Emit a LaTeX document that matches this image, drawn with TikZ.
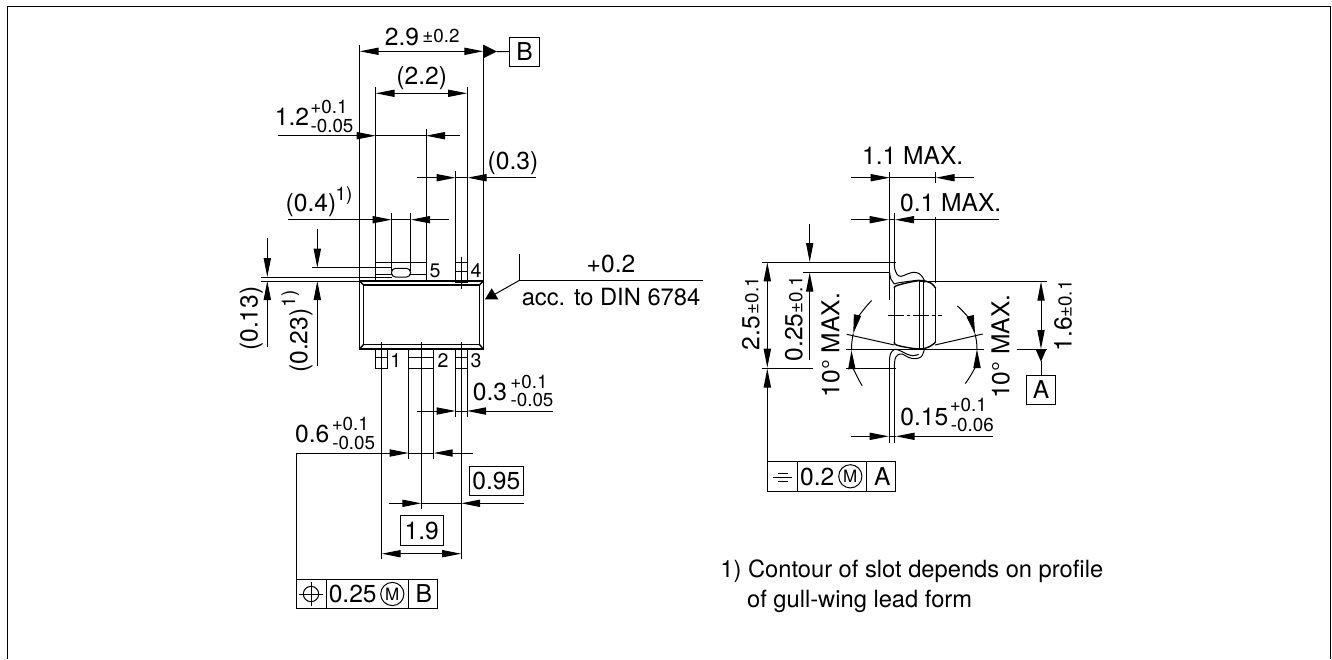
\documentclass[tikz,border=0pt]{standalone}
\usepackage{fontspec}
\setmainfont{TeX Gyre Heros}
\usetikzlibrary{arrows.meta}
\tikzset{
  dimline/.style={line width=0.5pt},
  edgeline/.style={line width=0.7pt},
  lab/.style={inner sep=0pt,anchor=base,font=\fontsize{12.3}{14}\selectfont},
  txt/.style={inner sep=0pt,anchor=base west,font=\fontsize{11.85}{14}\selectfont},
  tol/.style={inner sep=0pt,anchor=base,font=\fontsize{9.4}{11}\selectfont},
  pin/.style={inner sep=0pt,font=\fontsize{9.8}{11}\selectfont},
  refbox/.style={draw,line width=0.5pt,inner sep=0pt,minimum width=14.7pt,minimum height=14.7pt,font=\fontsize{12.3}{14}\selectfont},
  symcircle/.style={draw,circle,line width=0.5pt,inner sep=0pt,minimum size=11.6pt,font=\fontsize{8.5}{10}\selectfont}
}
\begin{document}
\begin{tikzpicture}[x=0.5pt,y=-0.5pt,>={Triangle[length=9.5pt,width=3.6pt]}]
      \useasboundingbox (0,0) rectangle (1332,659);
      % sheet frame
      \draw[line width=0.75pt] (7.5,659) -- (7.5,6.5) -- (1330.5,6.5) -- (1330.5,659);

      % top view, body and pins
      \begin{scope}[edgeline]
        \draw (359.7,281) rectangle (483.3,349);
        \draw (363.7,285) rectangle (479.3,344.3);
        \draw (359.7,281) -- (363.7,285);
        \draw (483.3,281) -- (479.3,285);
        \draw (359.7,349) -- (363.7,344.3);
        \draw (483.3,349) -- (479.3,344.3);
      \end{scope}
      \begin{scope}[dimline]
        \draw (359.7,45) -- (359.7,281);
        \draw (483.3,45) -- (483.3,281);
        \draw (375.7,87.3) -- (375.7,281);
        \draw (467,87.3) -- (467,282.7);
        \draw (426,129) -- (426,281);
        \draw (455.5,171) -- (455.5,282.7);
        \draw (391.5,213) -- (391.5,271);
        \draw (410.5,213) -- (410.5,271);
        \draw (375.7,262.3) -- (426,262.3);
        \draw (375.7,274) -- (391.7,274);
        \draw (410.3,274) -- (426,274);
        \draw[rounded corners=2pt] (391.5,268.3) rectangle (410.5,277);
        \draw (455.5,262.3) -- (467,262.3);
        \draw (455.5,271) -- (467,271);
        \draw (455.5,282.7) -- (467,282.7);
        \draw (461.5,256.7) -- (461.5,288.7);
        % lower pins
        \draw (375.7,349) -- (375.7,368) -- (387.7,368) -- (387.7,349);
        \draw (375.7,357.3) -- (387.7,357.3);
        \draw (381.7,341.7) -- (381.7,559.3);
        \draw (408.7,349) -- (408.7,459.3);
        \draw (433.7,349) -- (433.7,459.3);
        \draw (408.7,357.3) -- (433.7,357.3);
        \draw (408.7,368) -- (433.7,368);
        \draw (421.3,341.7) -- (421.3,509);
        \draw (455.5,349) -- (455.5,417.3);
        \draw (467,349) -- (467,417.3);
        \draw (455.5,357.3) -- (467,357.3);
        \draw (455.5,368) -- (467,368);
        \draw (461.2,341.7) -- (461.2,559.3);
        % slot heights
        \draw (311.7,267.7) -- (391.5,267.7);
        \draw (261,277) -- (391.5,277);
        \draw (261,281) -- (359.7,281);
      \end{scope}

      % top view, dimensions
      \begin{scope}[dimline]
        \draw[<->] (359.7,51.3) -- (483.3,51.3);
        \draw[<->] (375.7,93.3) -- (467,93.3);
        \draw[->] (277.7,135.7) -- (375.7,135.7);
        \draw (375.7,135.7) -- (426,135.7);
        \draw[->] (460,135.7) -- (426,135.7);
        \draw[->] (417,177.7) -- (455.5,177.7);
        \draw (455.5,177.7) -- (468,177.7);
        \draw[->] (536,177.7) -- (467.5,177.7);
        \draw[->] (288,219.7) -- (391.5,219.7);
        \draw (391.5,219.7) -- (410.5,219.7);
        \draw[->] (449,219.7) -- (411,219.7);
        \draw[->] (267.3,238) -- (267.3,277);
        \draw[->] (267.3,347) -- (267.3,281);
        \draw[->] (317.3,229) -- (317.3,267.7);
        \draw[->] (317.3,366) -- (317.3,281);
        \draw[->] (417,411) -- (455.5,411);
        \draw (455.5,411) -- (467,411);
        \draw[->] (552.7,411) -- (467,411);
        \draw[->] (296.7,453) -- (408.7,453);
        \draw (408.7,453) -- (433.7,453);
        \draw[->] (472.7,453) -- (433.7,453);
        \draw[->] (389.3,503.3) -- (421.3,503.3);
        \draw (421.3,503.3) -- (461.2,503.3);
        \draw[->] (523.7,503.3) -- (461.2,503.3);
        \draw[<->] (381.7,553.7) -- (461.2,553.7);
        \draw (296.7,453) -- (296.7,579.3);
      \end{scope}

      % surface mark
      \draw[dimline] (519.5,254) -- (519.5,280.3) -- (703,280.3);
      \draw[dimline] (519.5,280.3) -- (491.7,296);
      \fill (485,299.3) -- (498.3,299.3) -- (491.7,288.3) -- cycle;

      % datum B
      \node[refbox] (datumB) at (524.5,51.7) {B};
      \fill (483.3,44.7) -- (497,51.5) -- (483.3,58.3) -- cycle;
      \draw[dimline] (497,51.5) -- (datumB.west);

      % top view, labels
      \node[lab] (w29) at (402,45.7) {2.9};
      \node[tol] (w29t) at (441,42.7) {±0.2};
      \node[lab] (w22) at (421.7,84) {(2.2)};
      \node[lab] (w12) at (292,125) {1.2};
      \node[tol] (w12u) at (329,113.3) {+0.1};
      \node[tol] (w12l) at (332,132.3) {-0.05};
      \node[lab] (w03) at (513,169.3) {(0.3)};
      \node[lab] (w04) at (311,211) {(0.4)};
      \node[tol] (w04n) at (344,200.7) {1)};
      \node[lab,rotate=90] (h013) at (257.7,318.7) {(0.13)};
      \node[lab,rotate=90] (h023) at (307.3,340.7) {(0.23)};
      \node[tol,rotate=90] (h023n) at (295,299) {1)};
      \node[pin] (pin5) at (435,270.7) {5};
      \node[pin] (pin4) at (476,270.7) {4};
      \node[pin] (pin1) at (395.7,361) {1};
      \node[pin] (pin2) at (443,361) {2};
      \node[pin] (pin3) at (476,361) {3};
      \node[lab] (surf) at (611,272.7) {+0.2};
      \node[txt,anchor=base] (din) at (611,305) {acc. to DIN 6784};
      \node[lab] (p03) at (490,400.7) {0.3};
      \node[tol] (p03u) at (529,388.3) {+0.1};
      \node[tol] (p03l) at (532,406.7) {-0.05};
      \node[lab] (p06) at (312.3,442.7) {0.6};
      \node[tol] (p06u) at (350.3,430) {+0.1};
      \node[tol] (p06l) at (353.7,449) {-0.05};
      \node[refbox,minimum width=27.3pt] (b095) at (496.4,480.7) {0.95};
      \node[refbox,minimum width=21.3pt] (b19) at (421.7,530.5) {1.9};

      % position frame
      \draw[dimline] (296.7,579.3) rectangle (437.3,608.7);
      \draw[dimline] (326,579.3) -- (326,608.7);
      \draw[dimline] (408.3,579.3) -- (408.3,608.7);
      \draw[dimline] (311,594) circle (7.7);
      \draw[dimline] (299,594) -- (323,594);
      \draw[dimline] (311,582) -- (311,606);
      \node[lab] (pos) at (352.7,602.5) {0.25};
      \node[symcircle] (posM) at (392.3,594) {M};
      \node[lab] (posB) at (423.7,602.5) {B};

      % side view, body
      \begin{scope}[shift={(860,240)},x=0.5pt/3,y=-0.5pt/3]
        \begin{scope}[edgeline]
          \draw plot[smooth,tension=0.6] coordinates {(103,145) (112,136) (178,122) (212,129) (227,145)};
          \draw plot[smooth,tension=0.6] coordinates {(103,305) (112,316) (178,327) (212,318) (227,305)};
          \draw (103,145) -- (103,305);
          \draw (227,145) -- (227,305);
          \draw (178,122) -- (178,327);
          \draw (191,124) -- (191,325);
        \end{scope}
        \begin{scope}[dimline]
          \draw plot[smooth,tension=0.6] coordinates {(103,67) (104,85) (111,103) (123,109) (142,102) (160,97) (178,101) (190,115) (195,128)};
          \draw plot[smooth,tension=0.6] coordinates {(89,98) (92,115) (103,132)};
          \draw plot[smooth,tension=0.6] coordinates {(103,132) (118,128) (178,120)};
          \draw plot[smooth,tension=0.6] coordinates {(89,360) (91,342) (104,328) (122,333) (142,343) (160,347) (176,343)};
          \draw plot[smooth,tension=0.6] coordinates {(103,384) (105,358) (113,345) (127,342) (145,352) (165,356) (184,350) (193,328)};
        \end{scope}
      \end{scope}
      \begin{scope}[dimline]
        \draw (889.7,171.7) -- (889.7,300);
        \draw (894.3,213) -- (894.3,262.3);
        \draw (889.7,360) -- (889.7,442.7);
        \draw (894.3,368) -- (894.3,442.7);
        \draw (935.7,183) -- (935.7,171.7);
        \draw (935.5,217) -- (935.5,283);
        \draw (761.7,262.3) -- (895.7,262.3);
        \draw (803,272.5) -- (889.7,272.5);
        \draw (920,281.7) -- (1046.7,281.7);
        \draw (846,349) -- (984.3,349);
        \draw (1016.7,349) -- (1046.7,349);
        \draw (761.7,368) -- (813,368);
        \draw (846,368) -- (895.5,368);
        \draw (846.7,334.3) -- (894.3,345);
        \draw (935,345) -- (982.7,334);
        \draw[dash pattern=on 8pt off 1.5pt on 1.5pt off 1.5pt] (887.7,315.3) -- (941.7,315.3);
      \end{scope}

      % side view, dimensions
      \node[refbox] (datumA) at (1041,390) {A};
      \begin{scope}[dimline]
        \draw[->] (851,177.7) -- (889.7,177.7);
        \draw (889.7,177.7) -- (935.7,177.7);
        \draw[->] (974,177.7) -- (935.7,177.7);
        \draw[->] (851,219.7) -- (888.7,219.7);
        \draw (888.7,219.7) -- (895,219.7);
        \draw[->] (998.7,219.7) -- (895,219.7);
        \draw[->] (851,436.3) -- (888.7,436.3);
        \draw (888.7,436.3) -- (895.7,436.3);
        \draw[->] (993.3,436.3) -- (895.7,436.3);
        \draw[<->] (767.3,262.3) -- (767.3,367.7);
        \draw[->] (767.3,461.7) -- (767.3,368.5);
        \draw[->] (809.7,224) -- (809.7,262);
        \draw[->] (809.7,360) -- (809.7,272.5);
        \draw[<->] (1041,281.7) -- (1041,349);
        \draw (1041,361) -- (datumA.north);
        % angle arcs
        \draw[->] (920,349) ++(-135:68.5) arc[start angle=-135,end angle=-167,radius=68.5];
        \draw (920,349) ++(-167:68.5) arc[start angle=-167,end angle=-181,radius=68.5];
        \draw[->] (920,349) ++(-212.4:68.5) arc[start angle=-212.4,end angle=-181,radius=68.5];
        \draw[->] (920,349) ++(-49:57) arc[start angle=-49,end angle=-15,radius=57];
        \draw (920,349) ++(-15:57) arc[start angle=-15,end angle=0,radius=57];
        \draw[->] (920,349) ++(37.3:57) arc[start angle=37.3,end angle=0,radius=57];
      \end{scope}
      \fill (1035.5,349) -- (1046.5,349) -- (1041,361.7) -- cycle;

      % side view, labels
      \node[lab] (t11) at (912.7,164.7) {1.1 MAX.};
      \node[lab] (t01) at (950.7,211.7) {0.1 MAX.};
      \node[lab,rotate=90] (t25) at (759.3,333) {2.5};
      \node[tol,rotate=90] (t25t) at (758.3,295.7) {±0.1};
      \node[lab,rotate=90] (t025) at (802.3,337.3) {0.25};
      \node[tol,rotate=90] (t025t) at (802.3,295) {±0.1};
      \node[lab,rotate=90] (angl) at (839.3,345) {10° MAX.};
      \node[lab,rotate=90] (angr) at (1009.3,346.7) {10° MAX.};
      \node[lab,rotate=90] (t16) at (1071.7,334) {1.6};
      \node[tol,rotate=90] (t16t) at (1071.7,299) {±0.1};
      \node[lab] (t015) at (924.3,425) {0.15};
      \node[tol] (t015u) at (968.3,411.7) {+0.1};
      \node[tol] (t015l) at (972.3,431.7) {-0.06};

      % symmetry frame
      \draw[dimline] (767.3,461.7) rectangle (895.7,491);
      \draw[dimline] (797.3,461.7) -- (797.3,491);
      \draw[dimline] (866.7,461.7) -- (866.7,491);
      \draw[dimline] (777.7,473.3) -- (787.7,473.3);
      \draw[dimline] (773.3,477) -- (791.7,477);
      \draw[dimline] (777.7,481) -- (787.7,481);
      \node[lab] (sym) at (817.3,485) {0.2};
      \node[symcircle] (symM) at (850.3,476.3) {M};
      \node[lab] (symA) at (882.3,485) {A};

      % note
      \node[txt] (note1) at (720,577.7) {1) Contour of slot depends on profile};
      \node[txt] (note2) at (746.7,607) {of gull-wing lead form};
\end{tikzpicture}
\end{document}
